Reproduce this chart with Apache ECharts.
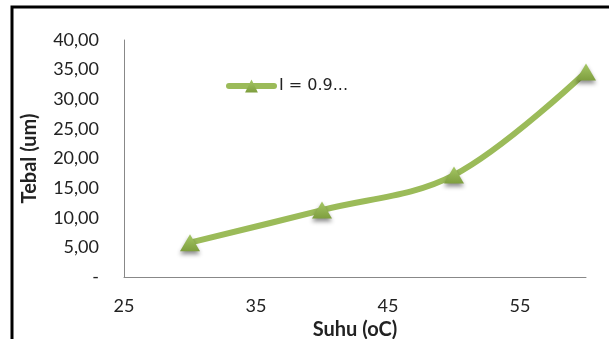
<!DOCTYPE html>
<html><head><meta charset="utf-8">
<script src="https://cdn.jsdelivr.net/npm/echarts@6/dist/echarts.min.js"></script>
<style>html,body{margin:0;padding:0;background:#fff}#c{width:609px;height:339px}</style>
</head><body><div id="c"></div>
<script>
const suhu = [30, 40, 50, 60];
const tebal = [5.8, 11.3, 17.2, 34.6];
const seriesName = 'I = 0.9...';
const xTickLabels = [25, 35, 45, 55];

const chart = echarts.init(document.getElementById('c'));
const green = '#9BBB59';
chart.setOption({
  animation: false,
  backgroundColor: '#fff',
  graphic: [{
    type: 'rect', shape: {x: 12, y: 7, width: 700, height: 400},
    style: {fill: 'none', stroke: '#000', lineWidth: 3}, z: 100
  }],
  grid: {left: 124, right: 23, top: 40, bottom: 62, containLabel: false, outerBoundsMode: 'none'},
  legend: {
    left: 226, top: 78, padding: 0, itemWidth: 45, itemHeight: 16,
    textStyle: {fontFamily: 'DejaVu Sans', fontSize: 16, color: '#222'},
    lineStyle: {width: 6, cap: 'round'},
    data: [seriesName]
  },
  xAxis: {
    type: 'value', min: 25, max: 60, interval: 5,
    name: 'Suhu (oC)', nameLocation: 'middle', nameGap: 41,
    nameTextStyle: {fontFamily: 'Lato', fontWeight: 'bold', fontSize: 20, color: '#222'},
    axisLine: {show: true, lineStyle: {color: '#888', width: 1}},
    axisTick: {show: false}, splitLine: {show: false},
    axisLabel: {
      margin: 20, fontFamily: 'Lato', fontSize: 18, color: '#222',
      formatter: v => xTickLabels.indexOf(v) >= 0 ? String(v) : ''
    }
  },
  yAxis: {
    type: 'value', min: 0, max: 40, interval: 5,
    name: 'Tebal (um)', nameLocation: 'middle', nameGap: 84,
    nameTextStyle: {fontFamily: 'Lato', fontWeight: 'bold', fontSize: 20, color: '#222'},
    axisLine: {show: true, lineStyle: {color: '#888', width: 1}},
    axisTick: {show: false}, splitLine: {show: false},
    axisLabel: {
      margin: 25, fontFamily: 'Lato', fontSize: 18, color: '#222',
      formatter: v => v === 0 ? '-' : v.toFixed(2).replace('.', ',')
    }
  },
  series: [{
    name: seriesName, type: 'line', smooth: 0.35,
    data: suhu.map((x, i) => [x, tebal[i]]),
    lineStyle: {color: green, width: 6},
    symbol: 'triangle', symbolSize: [20, 17],
    itemStyle: {
      color: new echarts.graphic.LinearGradient(0, 0, 0, 1, [
        {offset: 0, color: '#A6C866'}, {offset: 1, color: '#7E9E3E'}]),
      shadowColor: 'rgba(0,0,0,0.45)', shadowBlur: 4, shadowOffsetY: 3
    }
  }]
});
</script></body></html>
